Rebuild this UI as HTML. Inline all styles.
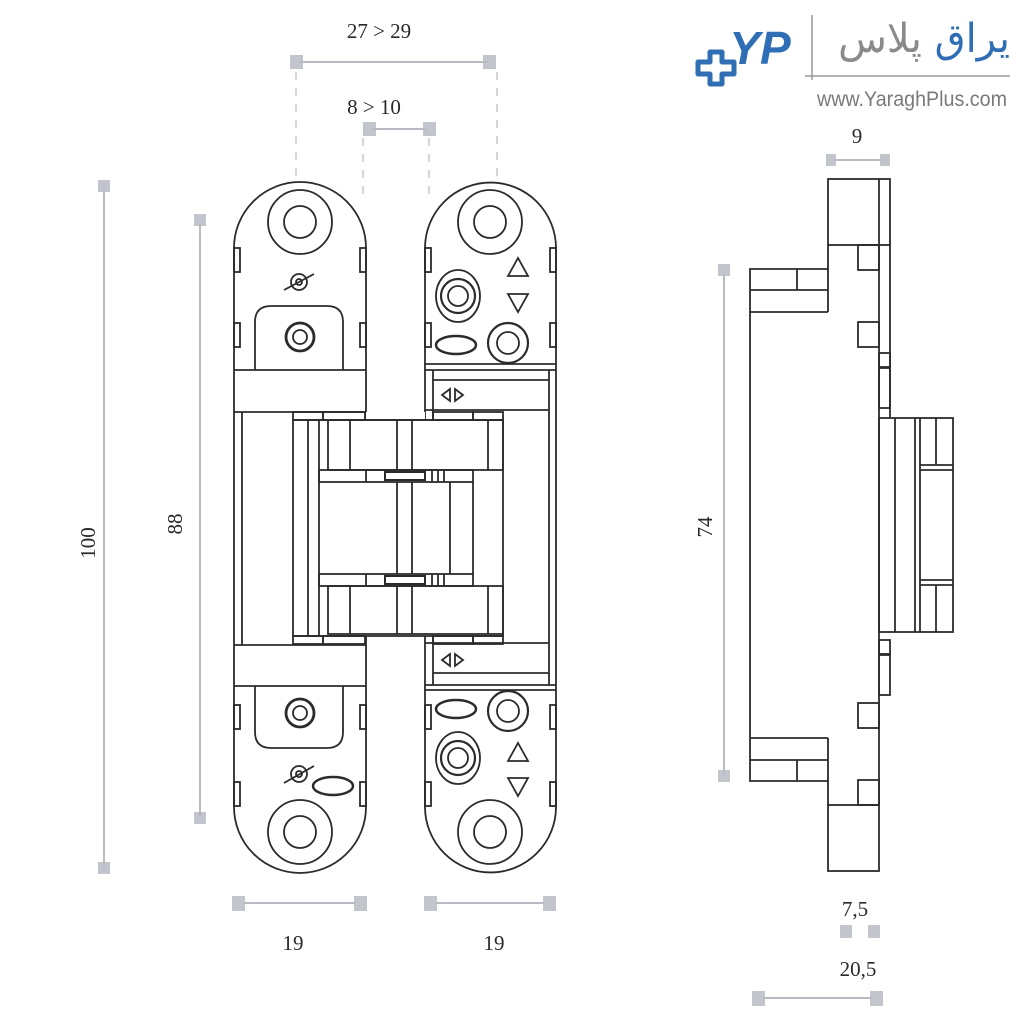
<!DOCTYPE html>
<html><head><meta charset="utf-8"><style>
html,body{margin:0;padding:0;background:#fff;width:1024px;height:1024px;overflow:hidden;position:relative}
svg{display:block}
.d{font-family:"Liberation Serif",serif;font-size:21px;fill:#2a2a2a}
.fa{position:absolute;right:14px;top:12px;width:196px;height:60px;overflow:hidden;direction:rtl;text-align:right;font-family:"DejaVu Sans",sans-serif;font-size:40px;line-height:54px;white-space:nowrap}
</style></head><body>
<svg width="1024" height="1024" viewBox="0 0 1024 1024" xmlns="http://www.w3.org/2000/svg">
<g fill="#c3c5cd" stroke="none">
<rect x="290" y="55" width="13" height="14"/><rect x="483" y="55" width="13" height="14"/>
<rect x="363" y="122" width="13" height="14"/><rect x="423" y="122" width="13" height="14"/>
<rect x="98" y="180" width="12" height="12"/><rect x="98" y="862" width="12" height="12"/>
<rect x="194" y="214" width="12" height="12"/><rect x="194" y="812" width="12" height="12"/>
<rect x="718" y="264" width="12" height="12"/><rect x="718" y="770" width="12" height="12"/>
<rect x="232" y="896" width="13" height="15"/><rect x="354" y="896" width="13" height="15"/>
<rect x="424" y="896" width="13" height="15"/><rect x="543" y="896" width="13" height="15"/>
<rect x="826" y="154" width="10" height="12"/><rect x="880" y="154" width="10" height="12"/>
<rect x="840" y="925" width="12" height="13"/><rect x="868" y="925" width="12" height="13"/>
<rect x="752" y="991" width="13" height="15"/><rect x="870" y="991" width="13" height="15"/>
</g>
<g stroke="#b9bbc3" stroke-width="2" fill="none">
<line x1="300" y1="62" x2="488" y2="62"/><line x1="372" y1="129" x2="426" y2="129"/>
<line x1="104" y1="190" x2="104" y2="866"/><line x1="200" y1="224" x2="200" y2="816"/>
<line x1="724" y1="274" x2="724" y2="774"/>
<line x1="243" y1="903" x2="356" y2="903"/><line x1="435" y1="903" x2="545" y2="903"/>
<line x1="834" y1="160" x2="882" y2="160"/>
<line x1="763" y1="998" x2="872" y2="998"/>
</g>
<g stroke="#c8c8cc" stroke-width="1.5" stroke-dasharray="8,8" fill="none">
<line x1="296" y1="72" x2="296" y2="180"/><line x1="497" y1="72" x2="497" y2="180"/>
<line x1="363" y1="138" x2="363" y2="200"/><line x1="429" y1="138" x2="429" y2="200"/>
</g>
<text class="d" x="379" y="38" text-anchor="middle">27 &gt; 29</text>
<text class="d" x="374" y="114" text-anchor="middle">8 &gt; 10</text>
<text class="d" x="857" y="143" text-anchor="middle">9</text>
<text class="d" x="293" y="950" text-anchor="middle">19</text>
<text class="d" x="494" y="950" text-anchor="middle">19</text>
<text class="d" x="855" y="916" text-anchor="middle">7,5</text>
<text class="d" x="858" y="976" text-anchor="middle">20,5</text>
<text class="d" transform="translate(95,543) rotate(-90)" text-anchor="middle">100</text>
<text class="d" transform="translate(182,524) rotate(-90)" text-anchor="middle">88</text>
<text class="d" transform="translate(712,527) rotate(-90)" text-anchor="middle">74</text>

<g stroke="#2b2b2b" stroke-width="1.8" fill="none">
<path d="M234 248 A66 66 0 0 1 366 248 L366 807 A66 66 0 0 1 234 807 Z"/>
<circle cx="300" cy="222" r="32"/><circle cx="300" cy="222" r="16"/>
<circle cx="300" cy="832" r="32"/><circle cx="300" cy="832" r="16"/>
<rect x="234" y="248" width="6" height="24"/><rect x="360" y="248" width="6" height="24"/>
<rect x="234" y="323" width="6" height="24"/><rect x="360" y="323" width="6" height="24"/>
<rect x="234" y="705" width="6" height="24"/><rect x="360" y="705" width="6" height="24"/>
<rect x="234" y="782" width="6" height="24"/><rect x="360" y="782" width="6" height="24"/>
<circle cx="299" cy="282" r="8"/><circle cx="299" cy="282" r="3"/><line x1="284" y1="290" x2="314" y2="274"/>
<circle cx="299" cy="774" r="8"/><circle cx="299" cy="774" r="3"/><line x1="284" y1="783" x2="314" y2="766"/>
<ellipse cx="333" cy="786" rx="20" ry="9" stroke-width="2.5"/>
<path d="M255 370 L255 322 Q255 306 271 306 L327 306 Q343 306 343 322 L343 370"/>
<path d="M255 686 L255 732 Q255 748 271 748 L327 748 Q343 748 343 732 L343 686"/>
<circle cx="300" cy="337" r="14" stroke-width="2.8"/><circle cx="300" cy="337" r="7"/>
<circle cx="300" cy="713" r="14" stroke-width="2.8"/><circle cx="300" cy="713" r="7"/>
<line x1="234" y1="370" x2="366" y2="370"/><line x1="234" y1="412" x2="366" y2="412"/>
<line x1="234" y1="645" x2="366" y2="645"/><line x1="234" y1="686" x2="366" y2="686"/>
<line x1="242" y1="412" x2="242" y2="645"/>
<path d="M425 248 A65.5 65.5 0 0 1 556 248 L556 807 A65.5 65.5 0 0 1 425 807 Z"/>
<circle cx="490" cy="222" r="32"/><circle cx="490" cy="222" r="16"/>
<circle cx="490" cy="832" r="32"/><circle cx="490" cy="832" r="16"/>
<rect x="425" y="248" width="6" height="24"/><rect x="550" y="248" width="6" height="24"/>
<rect x="425" y="323" width="6" height="24"/><rect x="550" y="323" width="6" height="24"/>
<rect x="425" y="705" width="6" height="24"/><rect x="550" y="705" width="6" height="24"/>
<rect x="425" y="782" width="6" height="24"/><rect x="550" y="782" width="6" height="24"/>
<path d="M508 276 L518 258 L528 276 Z"/><path d="M508 294 L528 294 L518 312 Z"/>
<path d="M508 761 L518 743 L528 761 Z"/><path d="M508 778 L528 778 L518 796 Z"/>
<ellipse cx="458" cy="296" rx="22" ry="26"/><circle cx="458" cy="296" r="17" stroke-width="2.2"/><circle cx="458" cy="296" r="10"/>
<ellipse cx="458" cy="758" rx="22" ry="26"/><circle cx="458" cy="758" r="17" stroke-width="2.2"/><circle cx="458" cy="758" r="10"/>
<circle cx="508" cy="343" r="20" stroke-width="2.2"/><circle cx="508" cy="343" r="11"/>
<circle cx="508" cy="711" r="20" stroke-width="2.2"/><circle cx="508" cy="711" r="11"/>
<ellipse cx="456" cy="345" rx="20" ry="9" stroke-width="2.5"/>
<ellipse cx="456" cy="709" rx="20" ry="9" stroke-width="2.5"/>
<line x1="425" y1="364" x2="556" y2="364"/><line x1="425" y1="690" x2="556" y2="690"/>
<line x1="425" y1="370" x2="556" y2="370"/><line x1="433" y1="380" x2="549" y2="380"/>
<line x1="425" y1="410" x2="549" y2="410"/>
<line x1="425" y1="643" x2="549" y2="643"/><line x1="433" y1="673" x2="549" y2="673"/><line x1="425" y1="685" x2="556" y2="685"/>
<line x1="433" y1="370" x2="433" y2="685"/><line x1="549" y1="370" x2="549" y2="685"/>
<path d="M450 389 L442 395 L450 401 Z M455 389 L463 395 L455 401 Z"/>
<path d="M450 654 L442 660 L450 666 Z M455 654 L463 660 L455 666 Z"/>
<rect x="366" y="412" width="59" height="8" stroke="none" fill="#fff"/>
<rect x="293" y="420" width="210" height="216" fill="#fff"/>
<rect x="293" y="412" width="30" height="8"/><rect x="323" y="412" width="42" height="8"/>
<rect x="433" y="412" width="40" height="8"/><rect x="473" y="412" width="30" height="8"/>
<rect x="293" y="636" width="30" height="8"/><rect x="323" y="636" width="42" height="8"/>
<rect x="433" y="636" width="40" height="8"/><rect x="473" y="636" width="30" height="8"/>
<line x1="308" y1="420" x2="308" y2="636"/><line x1="319" y1="420" x2="319" y2="636"/>
<rect x="328" y="420" width="175" height="50"/>
<rect x="328" y="586" width="175" height="48"/>
<line x1="350" y1="420" x2="350" y2="470"/><line x1="397" y1="420" x2="397" y2="470"/><line x1="412" y1="420" x2="412" y2="470"/><line x1="488" y1="420" x2="488" y2="470"/>
<line x1="350" y1="586" x2="350" y2="634"/><line x1="397" y1="586" x2="397" y2="634"/><line x1="412" y1="586" x2="412" y2="634"/><line x1="488" y1="586" x2="488" y2="634"/>
<rect x="319" y="470" width="154" height="12"/><rect x="385" y="472" width="40" height="8" stroke-width="2"/>
<rect x="319" y="574" width="154" height="12"/><rect x="385" y="576" width="40" height="8" stroke-width="2"/>
<line x1="366" y1="470" x2="366" y2="482"/><line x1="432" y1="470" x2="432" y2="482"/><line x1="438" y1="470" x2="438" y2="482"/><line x1="444" y1="470" x2="444" y2="482"/>
<line x1="366" y1="574" x2="366" y2="586"/><line x1="432" y1="574" x2="432" y2="586"/><line x1="438" y1="574" x2="438" y2="586"/><line x1="444" y1="574" x2="444" y2="586"/>
<line x1="397" y1="482" x2="397" y2="574"/><line x1="412" y1="482" x2="412" y2="574"/><line x1="450" y1="482" x2="450" y2="574"/><line x1="473" y1="482" x2="473" y2="574"/>
<rect x="828" y="179" width="62" height="66"/>
<line x1="879" y1="179" x2="879" y2="418"/><line x1="890" y1="245" x2="890" y2="418"/>
<path d="M828 245 L828 269 L750 269 L750 781 L828 781 L828 805"/>
<line x1="750" y1="290" x2="828" y2="290"/><line x1="750" y1="312" x2="828" y2="312"/><line x1="797" y1="269" x2="797" y2="290"/>
<line x1="750" y1="738" x2="828" y2="738"/><line x1="750" y1="760" x2="828" y2="760"/><line x1="797" y1="760" x2="797" y2="781"/>
<line x1="828" y1="312" x2="828" y2="269"/><line x1="828" y1="738" x2="828" y2="781"/>
<rect x="858" y="245" width="21" height="25"/><rect x="858" y="322" width="21" height="25"/>
<rect x="858" y="703" width="21" height="25"/><rect x="858" y="780" width="21" height="25"/>
<rect x="879" y="353" width="11" height="14"/><rect x="879" y="368" width="11" height="40"/>
<rect x="879" y="640" width="11" height="14"/><rect x="879" y="655" width="11" height="40"/>
<line x1="879" y1="418" x2="879" y2="805"/>
<rect x="828" y="805" width="51" height="66"/>
<rect x="879" y="418" width="74" height="214"/>
<line x1="895" y1="418" x2="895" y2="632"/><line x1="915" y1="418" x2="915" y2="632"/><line x1="920" y1="418" x2="920" y2="632"/>
<line x1="936" y1="418" x2="936" y2="465"/><line x1="936" y1="585" x2="936" y2="632"/>
<line x1="920" y1="465" x2="953" y2="465"/><line x1="920" y1="470" x2="953" y2="470"/>
<line x1="920" y1="580" x2="953" y2="580"/><line x1="920" y1="585" x2="953" y2="585"/>
</g>

<g>
<path d="M698 62 h12 v-10 h12 v10 h12 v12 h-12 v10 h-12 v-10 h-12 z" fill="none" stroke="#2f6db5" stroke-width="5" stroke-linejoin="round"/>
<text x="760" y="64" font-family="Liberation Sans,sans-serif" font-size="46" font-weight="bold" fill="#2f6db5" text-anchor="middle" font-style="italic">YP</text>
<line x1="812" y1="15" x2="812" y2="80" stroke="#999" stroke-width="1.5"/>
<line x1="805" y1="76" x2="1010" y2="76" stroke="#999" stroke-width="1.5"/>
<text x="1007" y="106" font-family="'Liberation Sans Narrow','Liberation Sans',sans-serif" font-size="21" fill="#7a7a7a" text-anchor="end" textLength="190" lengthAdjust="spacingAndGlyphs">www.YaraghPlus.com</text>
</g>
</svg>
<div class="fa"><span style="color:#2f6db5">یراق</span> <span style="color:#8a8a8a">پلاس</span></div>
</body></html>
